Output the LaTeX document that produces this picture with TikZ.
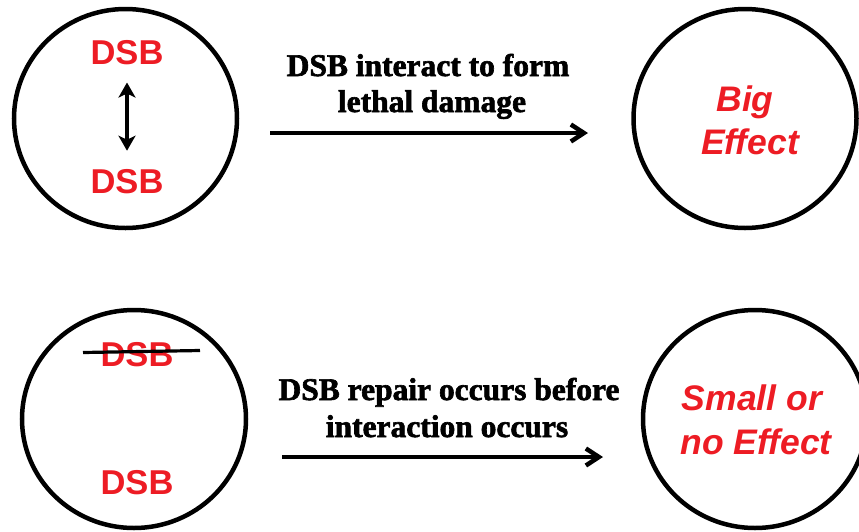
\documentclass[tikz,border=0pt]{standalone}
\usepackage{fontspec}
\setmainfont{Liberation Serif}[BoldFeatures={FakeBold=2}]
\newfontfamily\redfont{Liberation Sans}
\usetikzlibrary{shapes.geometric,arrows.meta}
\definecolor{dsbred}{RGB}{237,28,36}
\begin{document}
\begin{tikzpicture}[x=1pt,y=-1pt,
  cell/.style={draw, ellipse, line width=4.5pt, minimum width=223pt, minimum height=219pt, inner sep=0pt},
  redlbl/.style={text=dsbred, font=\redfont\bfseries\fontsize{34.5}{40}\selectfont, anchor=base, inner sep=0pt},
  efflbl/.style={text=dsbred, font=\redfont\bfseries\itshape\fontsize{35.5}{40}\selectfont, anchor=base, inner sep=0pt},
  steplbl/.style={font=\bfseries\fontsize{31.5}{37}\selectfont, anchor=base, inner sep=0pt},
  flow/.style={line width=4pt, -{Straight Barb[length=13pt,width=17pt,line width=4.5pt]}},
  dbl/.style={line width=3.6pt, {Stealth[length=15pt,width=17pt,inset=4pt]}-{Stealth[length=15pt,width=17pt,inset=4pt]}},
]
\useasboundingbox (0,0) rectangle (859,531);
% circles
\node[cell] (c1) at (125.5,118.5) {};
\node[cell] (c2) at (745,118.5) {};
\node[cell, minimum width=224pt, minimum height=218pt] (c3) at (134,419) {};
\node[cell, minimum width=224pt, minimum height=218pt] (c4) at (755,419) {};
% top-left contents
\node[redlbl] (d1) at (127,64) {DSB};
\node[redlbl] (d2) at (127,193) {DSB};
\draw[dbl, shorten <=18pt, shorten >=18pt] (d1.south) -- (d2.north);
% bottom-left contents
\node[redlbl] (d3) at (137,366) {DSB};
\node[redlbl] (d4) at (137,494) {DSB};
\coordinate (s1) at (83,352.5);
\coordinate (s2) at (200,350.5);
\draw[line width=3.2pt] (s1) -- (s2);
% effects
\node[efflbl] (e1) at (745,111) {Big};
\node[efflbl] (e2) at (750,154) {Effect};
\node[efflbl] (e3) at (752,410) {Small or};
\node[efflbl] (e4) at (756,454) {no Effect};
% step texts
\node[steplbl] (t1) at (428,76) {DSB interact to form};
\node[steplbl] (t2) at (432,112) {lethal damage};
\node[steplbl] (t3) at (449,400) {DSB repair occurs before};
\node[steplbl] (t4) at (447,437) {interaction occurs};
% arrows
\coordinate (p1) at (270,133);
\coordinate (p2) at (588,133);
\coordinate (q1) at (282,457);
\coordinate (q2) at (603,457);
\draw[flow] (p1) -- (p2);
\draw[flow] (q1) -- (q2);
\end{tikzpicture}
\end{document}
